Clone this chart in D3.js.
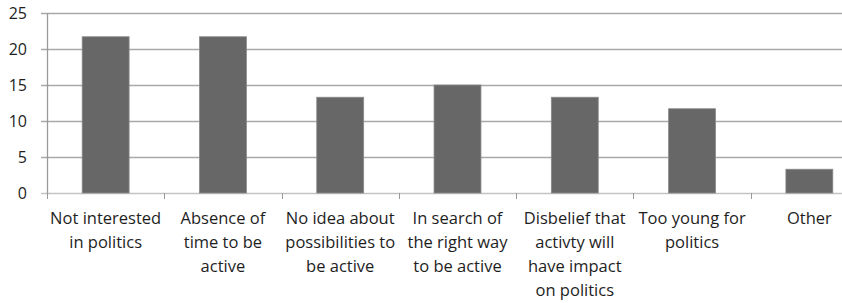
<!DOCTYPE html>
<html>
<head>
<meta charset="utf-8">
<script src="https://cdn.jsdelivr.net/npm/d3@7"></script>
<style>
  html, body { margin: 0; padding: 0; background: #fff; overflow: hidden; }
  text { font-family: "Open Sans", "Liberation Sans", sans-serif; fill: #1e1e1e; }
</style>
</head>
<body>
<div id="chart"></div>
<script>
// Reasons for not being politically active (%)
const categories = [
  ["Not interested", "in politics"],
  ["Absence of", "time to be", "active"],
  ["No idea about", "possibilities to", "be active"],
  ["In search of", "the right way", "to be active"],
  ["Disbelief that", "activty will", "have impact", "on politics"],
  ["Too young for", "politics"],
  ["Other"]
];
const values = [21.7, 21.7, 13.3, 15.0, 13.3, 11.7, 3.3];
const yTicks = [0, 5, 10, 15, 20, 25];

const width = 842;
const height = 303;
const margin = { top: 13, left: 47, bottom: 110 };
const plotRight = 868; // the plot runs past the right edge of the picture

const svg = d3.select("#chart")
  .append("svg")
  .attr("width", width)
  .attr("height", height);

const x = d3.scaleBand()
  .domain(d3.range(categories.length))
  .range([margin.left, plotRight])
  .padding(0);

const y = d3.scaleLinear()
  .domain([0, 25])
  .range([height - margin.bottom, margin.top]);

// Gridlines
svg.append("g")
  .selectAll("line")
  .data(yTicks)
  .enter().append("line")
  .attr("x1", margin.left - 6)
  .attr("x2", plotRight)
  .attr("y1", d => Math.round(y(d)) + 0.5)
  .attr("y2", d => Math.round(y(d)) + 0.5)
  .attr("stroke", d => d === 0 ? "#c4c4c4" : "#a9a9a9")
  .attr("stroke-width", 1.3);

// Y axis line
svg.append("line")
  .attr("x1", margin.left + 0.5)
  .attr("x2", margin.left + 0.5)
  .attr("y1", y(25))
  .attr("y2", y(0) + 1)
  .attr("stroke", "#9a9a9a")
  .attr("stroke-width", 1.3);

// Y tick labels
svg.append("g")
  .selectAll("text")
  .data(yTicks)
  .enter().append("text")
  .attr("x", margin.left - 20)
  .attr("y", d => y(d))
  .attr("dy", "0.36em")
  .attr("text-anchor", "end")
  .style("font-size", "16px")
  .text(d => d);

// X tick marks at category boundaries
svg.append("g")
  .selectAll("line")
  .data(d3.range(categories.length))
  .enter().append("line")
  .attr("x1", d => Math.round(x(d)) + 0.5)
  .attr("x2", d => Math.round(x(d)) + 0.5)
  .attr("y1", y(0))
  .attr("y2", y(0) + 6)
  .attr("stroke", "#9a9a9a");

// Bars
const barW = x.bandwidth() * 0.4;
svg.append("g")
  .selectAll("rect")
  .data(values)
  .enter().append("rect")
  .attr("x", (d, i) => x(i) + (x.bandwidth() - barW) / 2)
  .attr("y", d => y(d))
  .attr("width", barW)
  .attr("height", d => y(0) - y(d))
  .attr("fill", "#676767")
  .attr("stroke", "#8a8a8a")
  .attr("stroke-width", 0.8);

// Category labels
const labels = svg.append("g")
  .selectAll("text")
  .data(categories)
  .enter().append("text")
  .attr("text-anchor", "middle")
  .style("font-size", "16.5px");

labels.selectAll("tspan")
  .data((d, i) => d.map(line => ({ line, i })))
  .enter().append("tspan")
  .attr("x", d => x(d.i) + x.bandwidth() / 2)
  .attr("y", (d, j) => 224 + j * 24)
  .text(d => d.line);
</script>
</body>
</html>
